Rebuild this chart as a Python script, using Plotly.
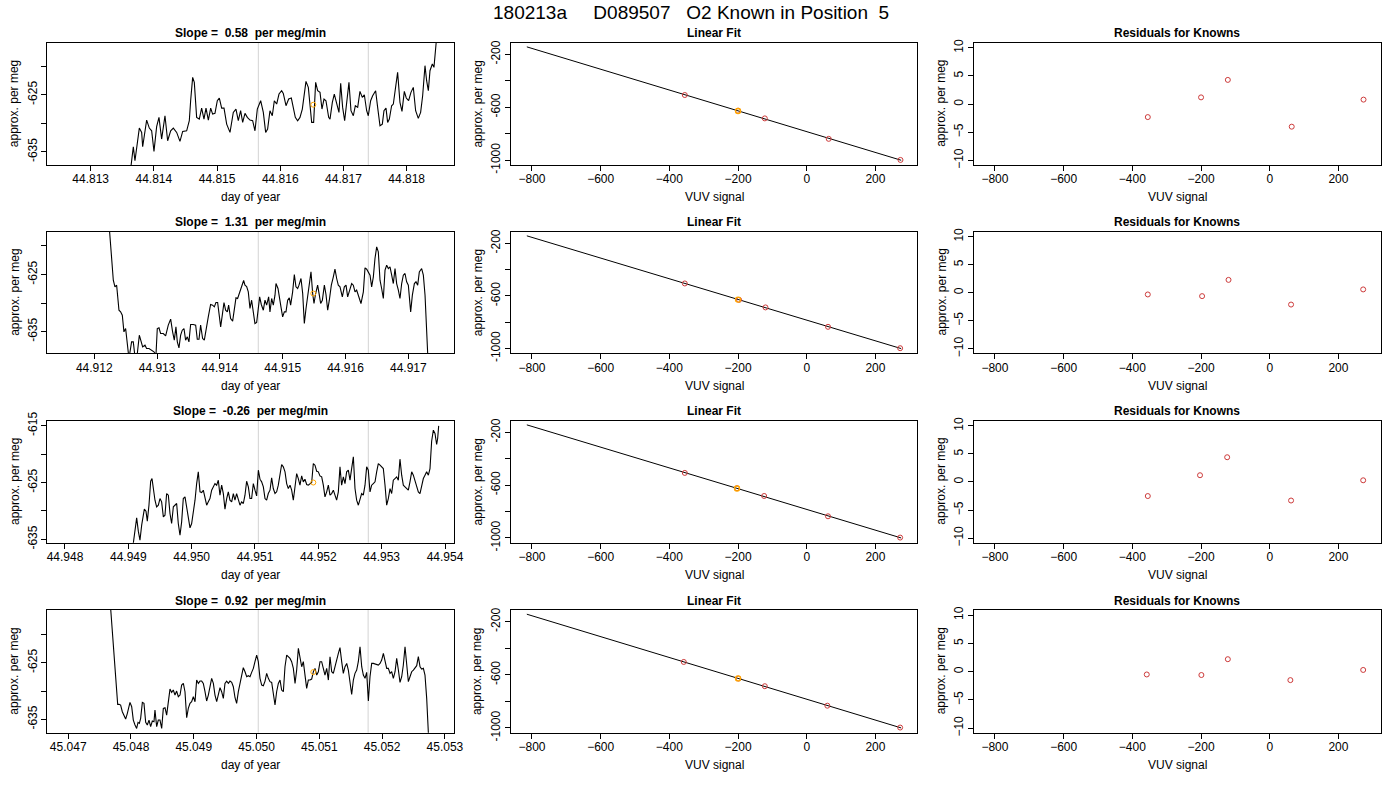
import numpy as np
import plotly.graph_objects as go

W, H = 1400, 800
FONT = "Liberation Sans, Arial, sans-serif"

main_title = "180213a     D089507   O2 Known in Position  5"
slopes = ["0.58", "1.31", "-0.26", "0.92"]

# ---- time series (day of year vs approx. per meg), one pair per row ----
day1 = [44.813600, 44.813675, 44.813701, 44.813770, 44.813807, 44.813823, 44.813886, 44.813928, 44.813965, 44.814002,
        44.814044, 44.814081, 44.814123, 44.814176, 44.814218, 44.814266, 44.814308, 44.814361, 44.814413, 44.814456,
        44.814519, 44.814561, 44.814582, 44.814614, 44.814640, 44.814677, 44.814719, 44.814756, 44.814793, 44.814825,
        44.814862, 44.814899, 44.814930, 44.814967, 44.815004, 44.815036, 44.815073, 44.815110, 44.815152, 44.815205,
        44.815257, 44.815299, 44.815336, 44.815373, 44.815405, 44.815442, 44.815479, 44.815521, 44.815563, 44.815600,
        44.815637, 44.815690, 44.815732, 44.815769, 44.815800, 44.815837, 44.815874, 44.815906, 44.815943, 44.815980,
        44.816022, 44.816048, 44.816091, 44.816133, 44.816175, 44.816207, 44.816238, 44.816275, 44.816312, 44.816349,
        44.816381, 44.816407, 44.816444, 44.816470, 44.816497, 44.816528, 44.816560, 44.816592, 44.816629, 44.816660,
        44.816692, 44.816723, 44.816766, 44.816787, 44.816824, 44.816855, 44.816892, 44.816929, 44.816956, 44.816987,
        44.817019, 44.817050, 44.817087, 44.817119, 44.817156, 44.817188, 44.817225, 44.817261, 44.817298, 44.817330,
        44.817367, 44.817393, 44.817430, 44.817462, 44.817509, 44.817541, 44.817578, 44.817615, 44.817641, 44.817673,
        44.817699, 44.817726, 44.817762, 44.817789, 44.817831, 44.817857, 44.817894, 44.817926, 44.817963, 44.817994,
        44.818031, 44.818068, 44.818105, 44.818142, 44.818184, 44.818221, 44.818253, 44.818290, 44.818316, 44.818343,
        44.818369, 44.818406, 44.818432, 44.818464, 44.818490]
meg1 = [-641.00, -634.11, -636.56, -630.84, -631.60, -634.11, -629.44, -630.84, -631.31, -634.92,
        -630.60, -628.97, -632.76, -628.68, -633.06, -631.31, -630.84, -631.60, -633.17, -631.42,
        -631.31, -629.55, -626.05, -621.96, -622.84, -628.97, -629.26, -627.34, -629.26, -627.34,
        -629.44, -627.34, -628.39, -628.27, -626.05, -625.58, -627.34, -627.34, -630.14, -631.60,
        -628.09, -627.51, -629.55, -627.80, -629.85, -628.27, -628.97, -629.44, -629.55, -631.31,
        -627.51, -626.05, -628.09, -631.60, -631.01, -627.80, -628.68, -626.05, -626.63, -624.88,
        -624.30, -624.77, -626.93, -625.76, -625.58, -627.22, -628.97, -629.55, -628.97, -627.51,
        -624.30, -622.66, -623.72, -626.63, -629.85, -629.85, -622.84, -624.30, -624.59, -627.51,
        -625.76, -626.05, -628.97, -629.26, -626.34, -624.88, -626.63, -628.09, -623.02, -627.22,
        -629.55, -626.34, -622.84, -627.80, -628.68, -626.93, -627.22, -624.42, -625.47, -625.00,
        -627.80, -628.68, -626.05, -625.18, -624.30, -627.22, -630.43, -630.14, -627.80, -627.34,
        -629.85, -629.26, -626.93, -626.63, -623.13, -621.09, -626.34, -627.92, -624.42, -625.58,
        -626.05, -624.59, -623.72, -627.80, -629.15, -628.09, -625.18, -619.92, -622.55, -624.30,
        -620.80, -619.63, -620.21, -616.00, -613.00]

day2 = [44.912230, 44.912265, 44.912303, 44.912329, 44.912356, 44.912393, 44.912419, 44.912446, 44.912472, 44.912499,
        44.912525, 44.912552, 44.912594, 44.912621, 44.912648, 44.912685, 44.912717, 44.912738, 44.912770, 44.912807,
        44.912833, 44.912871, 44.912913, 44.912950, 44.912982, 44.913003, 44.913030, 44.913056, 44.913099, 44.913136,
        44.913178, 44.913216, 44.913247, 44.913274, 44.913300, 44.913322, 44.913348, 44.913375, 44.913401, 44.913428,
        44.913454, 44.913481, 44.913507, 44.913534, 44.913576, 44.913614, 44.913640, 44.913667, 44.913693, 44.913725,
        44.913752, 44.913789, 44.913815, 44.913852, 44.913884, 44.913911, 44.913937, 44.913964, 44.913985, 44.914012,
        44.914038, 44.914065, 44.914091, 44.914118, 44.914139, 44.914171, 44.914203, 44.914229, 44.914256, 44.914282,
        44.914309, 44.914336, 44.914357, 44.914378, 44.914399, 44.914426, 44.914452, 44.914479, 44.914505, 44.914532,
        44.914558, 44.914585, 44.914606, 44.914633, 44.914659, 44.914691, 44.914718, 44.914744, 44.914776, 44.914797,
        44.914824, 44.914850, 44.914877, 44.914893, 44.914925, 44.914946, 44.914972, 44.914999, 44.915026, 44.915052,
        44.915079, 44.915105, 44.915126, 44.915158, 44.915185, 44.915211, 44.915238, 44.915259, 44.915291, 44.915318,
        44.915344, 44.915371, 44.915397, 44.915424, 44.915450, 44.915477, 44.915498, 44.915524, 44.915556, 44.915583,
        44.915604, 44.915631, 44.915663, 44.915689, 44.915716, 44.915742, 44.915774, 44.915806, 44.915832, 44.915859,
        44.915885, 44.915912, 44.915949, 44.915981, 44.916008, 44.916034, 44.916061, 44.916098, 44.916124, 44.916151,
        44.916177, 44.916215, 44.916246, 44.916284, 44.916310, 44.916337, 44.916363, 44.916390, 44.916416, 44.916443,
        44.916469, 44.916496, 44.916522, 44.916549, 44.916575, 44.916602, 44.916629, 44.916655, 44.916682, 44.916708,
        44.916735, 44.916761, 44.916788, 44.916814, 44.916841, 44.916867, 44.916894, 44.916920, 44.916947, 44.916973,
        44.917000, 44.917037, 44.917064, 44.917096, 44.917122, 44.917149, 44.917175, 44.917212, 44.917239, 44.917266,
        44.917308, 44.917320]
meg2 = [-615.50, -619.86, -625.99, -627.16, -626.87, -631.25, -631.54, -632.12, -635.04, -634.46,
        -637.96, -639.71, -636.79, -636.79, -639.42, -638.84, -635.63, -636.50, -637.67, -637.38,
        -637.96, -637.96, -638.25, -638.54, -639.13, -634.46, -634.34, -635.33, -635.33, -635.74,
        -633.87, -632.82, -635.04, -636.50, -634.17, -636.79, -637.84, -635.63, -634.75, -634.46,
        -636.50, -635.92, -636.79, -633.76, -633.76, -633.87, -636.33, -636.33, -633.87, -636.21,
        -636.50, -634.46, -632.41, -630.25, -630.37, -630.66, -629.90, -629.90, -632.12, -634.17,
        -632.12, -629.90, -631.25, -631.54, -630.37, -632.71, -633.17, -630.95, -629.09, -629.20,
        -628.33, -627.74, -626.99, -626.05, -626.87, -627.10, -628.04, -630.95, -629.50, -632.12,
        -633.58, -633.41, -631.54, -628.91, -630.25, -631.25, -629.50, -630.37, -628.91, -631.54,
        -629.20, -630.37, -628.62, -626.58, -627.45, -628.62, -630.66, -632.41, -631.54, -631.54,
        -629.50, -629.09, -630.37, -628.04, -625.00, -627.16, -627.45, -626.87, -625.70, -628.33,
        -633.58, -630.95, -628.91, -627.45, -624.53, -628.33, -630.08, -628.33, -626.87, -628.62,
        -630.08, -629.50, -626.87, -628.50, -631.25, -629.50, -626.87, -625.41, -624.07, -625.70,
        -626.87, -627.16, -628.91, -627.16, -626.87, -628.91, -628.04, -626.58, -626.87, -628.04,
        -627.74, -629.20, -630.08, -628.04, -623.83, -624.07, -624.53, -625.12, -627.16, -625.41,
        -622.20, -620.15, -621.03, -625.99, -627.45, -629.20, -624.24, -623.37, -623.95, -623.66,
        -625.12, -626.58, -623.95, -626.58, -627.74, -629.20, -626.58, -625.12, -624.82, -626.28,
        -626.87, -631.54, -628.62, -626.58, -626.28, -626.87, -624.53, -623.95, -625.12, -628.62,
        -638.84, -641.00]

day3 = [44.949068, 44.949079, 44.949105, 44.949132, 44.949158, 44.949184, 44.949211, 44.949237, 44.949253, 44.949279,
        44.949300, 44.949326, 44.949353, 44.949374, 44.949395, 44.949421, 44.949447, 44.949474, 44.949500, 44.949526,
        44.949553, 44.949579, 44.949605, 44.949632, 44.949658, 44.949684, 44.949711, 44.949737, 44.949763, 44.949789,
        44.949816, 44.949842, 44.949868, 44.949895, 44.949921, 44.949947, 44.949974, 44.950000, 44.950026, 44.950053,
        44.950079, 44.950105, 44.950132, 44.950158, 44.950184, 44.950210, 44.950237, 44.950263, 44.950289, 44.950316,
        44.950342, 44.950368, 44.950395, 44.950421, 44.950447, 44.950474, 44.950500, 44.950526, 44.950553, 44.950579,
        44.950605, 44.950632, 44.950658, 44.950684, 44.950710, 44.950737, 44.950763, 44.950789, 44.950816, 44.950842,
        44.950868, 44.950895, 44.950921, 44.950947, 44.950974, 44.951000, 44.951026, 44.951053, 44.951079, 44.951105,
        44.951132, 44.951158, 44.951184, 44.951210, 44.951237, 44.951263, 44.951289, 44.951316, 44.951342, 44.951368,
        44.951395, 44.951421, 44.951447, 44.951474, 44.951500, 44.951526, 44.951553, 44.951579, 44.951605, 44.951632,
        44.951658, 44.951684, 44.951710, 44.951737, 44.951763, 44.951789, 44.951816, 44.951842, 44.951868, 44.951895,
        44.951921, 44.951947, 44.951974, 44.952000, 44.952026, 44.952053, 44.952079, 44.952105, 44.952132, 44.952158,
        44.952184, 44.952210, 44.952237, 44.952263, 44.952289, 44.952316, 44.952342, 44.952368, 44.952395, 44.952421,
        44.952447, 44.952474, 44.952500, 44.952526, 44.952553, 44.952579, 44.952605, 44.952632, 44.952658, 44.952684,
        44.952710, 44.952737, 44.952763, 44.952789, 44.952816, 44.952842, 44.952868, 44.952895, 44.952921, 44.952947,
        44.952974, 44.953000, 44.953026, 44.953053, 44.953079, 44.953105, 44.953132, 44.953158, 44.953184, 44.953210,
        44.953237, 44.953263, 44.953289, 44.953316, 44.953342, 44.953368, 44.953395, 44.953421, 44.953447, 44.953474,
        44.953500, 44.953526, 44.953553, 44.953579, 44.953605, 44.953631, 44.953658, 44.953684, 44.953710, 44.953737,
        44.953763, 44.953789, 44.953816, 44.953842, 44.953868, 44.953884, 44.953900]
meg3 = [-636.61, -635.62, -633.56, -631.22, -633.56, -635.15, -632.51, -631.04, -629.69, -630.04,
        -631.80, -628.99, -624.77, -624.30, -626.06, -628.11, -629.28, -628.99, -627.82, -628.40,
        -631.04, -630.75, -626.94, -627.23, -630.45, -632.21, -629.28, -628.99, -628.69, -632.21,
        -634.27, -631.92, -627.82, -627.52, -629.57, -631.04, -632.98, -632.21, -630.45, -628.11,
        -625.18, -623.12, -626.64, -626.76, -626.35, -627.82, -628.99, -628.40, -627.82, -626.35,
        -625.76, -625.18, -625.47, -624.59, -627.23, -625.47, -626.94, -629.69, -627.82, -626.64,
        -628.11, -628.40, -626.94, -628.11, -626.94, -628.11, -628.99, -628.40, -628.69, -627.23,
        -624.77, -625.76, -627.82, -627.82, -625.18, -626.35, -627.35, -622.83, -624.41, -624.88,
        -625.76, -627.82, -628.11, -626.94, -626.35, -624.18, -626.06, -626.94, -626.64, -625.47,
        -623.71, -621.83, -622.24, -623.12, -625.18, -626.06, -625.47, -626.35, -628.11, -625.47,
        -623.42, -624.30, -625.47, -623.83, -624.88, -624.41, -625.35, -625.47, -625.18, -625.00,
        -621.66, -621.95, -623.01, -623.12, -623.83, -624.00, -625.47, -627.52, -626.64, -625.47,
        -627.23, -626.94, -626.35, -627.23, -628.11, -626.64, -622.24, -625.47, -624.00, -625.18,
        -623.12, -622.83, -624.59, -622.54, -620.48, -626.06, -628.11, -628.99, -627.82, -626.94,
        -627.23, -625.47, -622.24, -622.83, -626.64, -625.47, -625.18, -624.88, -623.12, -621.66,
        -621.95, -622.24, -622.54, -625.47, -628.99, -627.82, -626.06, -626.94, -624.59, -624.30,
        -624.00, -624.59, -620.89, -623.71, -625.47, -625.76, -626.06, -626.35, -624.88, -623.12,
        -623.71, -624.59, -625.76, -626.64, -626.94, -625.47, -624.30, -623.71, -623.12, -623.71,
        -622.54, -617.73, -615.79, -616.38, -618.31, -617.26, -615.03]

day4 = [45.047670, 45.047692, 45.047719, 45.047745, 45.047772, 45.047788, 45.047809, 45.047835, 45.047862, 45.047888,
        45.047915, 45.047942, 45.047968, 45.047984, 45.048011, 45.048037, 45.048064, 45.048090, 45.048112, 45.048133,
        45.048154, 45.048181, 45.048207, 45.048234, 45.048260, 45.048287, 45.048313, 45.048340, 45.048366, 45.048382,
        45.048409, 45.048435, 45.048462, 45.048489, 45.048515, 45.048542, 45.048568, 45.048595, 45.048621, 45.048648,
        45.048674, 45.048701, 45.048727, 45.048754, 45.048781, 45.048807, 45.048834, 45.048860, 45.048887, 45.048913,
        45.048940, 45.048966, 45.048993, 45.049020, 45.049046, 45.049073, 45.049099, 45.049126, 45.049152, 45.049179,
        45.049205, 45.049232, 45.049258, 45.049285, 45.049312, 45.049338, 45.049365, 45.049391, 45.049418, 45.049444,
        45.049471, 45.049497, 45.049524, 45.049551, 45.049577, 45.049604, 45.049630, 45.049657, 45.049683, 45.049710,
        45.049736, 45.049763, 45.049789, 45.049816, 45.049843, 45.049869, 45.049896, 45.049922, 45.049949, 45.049975,
        45.050002, 45.050028, 45.050055, 45.050082, 45.050108, 45.050135, 45.050161, 45.050188, 45.050214, 45.050241,
        45.050267, 45.050294, 45.050320, 45.050347, 45.050374, 45.050400, 45.050427, 45.050453, 45.050480, 45.050506,
        45.050533, 45.050559, 45.050586, 45.050613, 45.050639, 45.050666, 45.050692, 45.050719, 45.050745, 45.050772,
        45.050798, 45.050825, 45.050851, 45.050878, 45.050905, 45.050931, 45.050958, 45.050984, 45.051011, 45.051037,
        45.051064, 45.051090, 45.051117, 45.051144, 45.051170, 45.051197, 45.051223, 45.051250, 45.051276, 45.051303,
        45.051329, 45.051356, 45.051382, 45.051409, 45.051436, 45.051462, 45.051489, 45.051515, 45.051542, 45.051568,
        45.051595, 45.051621, 45.051648, 45.051675, 45.051701, 45.051728, 45.051754, 45.051781, 45.051807, 45.051834,
        45.051860, 45.051887, 45.051913, 45.051940, 45.051967, 45.051993, 45.052020, 45.052046, 45.052073, 45.052099,
        45.052126, 45.052152, 45.052179, 45.052206, 45.052232, 45.052259, 45.052285, 45.052312, 45.052338, 45.052365,
        45.052391, 45.052418, 45.052444, 45.052471, 45.052498, 45.052524, 45.052551, 45.052577, 45.052604, 45.052630,
        45.052657, 45.052683, 45.052710, 45.052737, 45.052745]
meg4 = [-614.50, -617.77, -620.71, -624.24, -628.94, -632.35, -632.35, -632.47, -633.65, -634.35,
        -634.94, -633.94, -632.76, -632.00, -632.76, -635.12, -636.00, -636.59, -635.53, -635.71,
        -634.82, -632.00, -632.18, -635.53, -636.00, -635.12, -636.29, -635.29, -635.41, -633.35,
        -636.29, -635.12, -635.12, -636.59, -633.06, -632.94, -634.24, -631.29, -629.65, -630.24,
        -629.82, -630.71, -630.00, -631.00, -630.71, -628.94, -628.65, -630.12, -634.71, -633.06,
        -632.18, -631.88, -631.00, -631.88, -628.06, -628.65, -628.24, -628.24, -628.65, -630.12,
        -631.76, -630.71, -629.24, -627.76, -628.65, -630.71, -631.88, -630.71, -629.41, -630.12,
        -631.29, -628.65, -628.24, -628.65, -628.24, -628.47, -629.24, -631.18, -632.18, -630.12,
        -628.65, -627.47, -625.88, -626.59, -627.47, -627.29, -627.47, -626.71, -626.00, -624.82,
        -623.65, -624.82, -627.76, -628.94, -629.06, -628.24, -626.88, -627.76, -628.35, -628.47,
        -630.71, -632.47, -630.12, -628.65, -628.06, -629.82, -630.12, -625.71, -623.65, -623.94,
        -624.24, -624.82, -626.00, -628.65, -626.29, -622.47, -623.94, -625.71, -624.82, -627.47,
        -629.53, -628.06, -628.06, -627.88, -626.59, -626.00, -627.18, -626.59, -624.82, -624.82,
        -626.12, -627.18, -626.00, -628.06, -623.94, -626.59, -626.88, -625.41, -624.53, -623.35,
        -622.35, -624.82, -626.88, -625.71, -625.12, -626.29, -628.65, -630.59, -628.06, -626.88,
        -626.29, -624.82, -622.18, -625.71, -627.18, -627.76, -626.71, -631.76, -627.47, -625.12,
        -625.12, -625.24, -625.41, -625.41, -625.12, -624.53, -623.35, -624.53, -626.00, -626.00,
        -626.88, -626.59, -627.76, -626.59, -624.24, -626.29, -628.47, -627.47, -625.41, -622.18,
        -624.82, -628.35, -627.47, -626.59, -626.29, -626.00, -625.53, -623.94, -625.71, -626.12,
        -626.00, -627.18, -631.29, -637.47, -640.00]

ts_day = [day1, day2, day3, day4]
ts_meg = [meg1, meg2, meg3, meg4]

# window edges (grey verticals) and the averaged sample (orange)
window_days = [[44.815653, 44.817393], [44.914611, 44.916363],
               [44.951053, 44.952789], [45.050027, 45.051777]]
sample_day = [44.816523, 44.915487, 44.951921, 45.050904]
sample_meg = [-626.75, -628.33, -625.00, -626.65]

# ---- calibration knowns ----
known_vuv = [[-355, -200, -122, 64, 273],
             [-355, -197, -120, 62, 272],
             [-355, -203, -124, 62, 272],
             [-358, -199, -122, 60, 272]]
known_meg = [[-507.3, -625.6, -683.8, -838.3, -997.8],
             [-505.3, -629.8, -687.4, -834.8, -997.2],
             [-507.5, -623.2, -682.1, -836.0, -997.2],
             [-503.1, -628.2, -685.9, -832.7, -997.2]]
resid_meg = [[-2.3, 1.2, 4.3, -4.0, 0.8],
             [-0.3, -0.6, 2.3, -2.1, 0.6],
             [-2.5, 1.2, 4.4, -3.3, 0.3],
             [-0.5, -0.6, 2.2, -1.5, 0.3]]
unknown_vuv = [-200, -200, -203, -200]
unknown_meg = [-628, -628, -626, -627]
fit_span = [-815, 275]

day_ticks = [["44.813", "44.814", "44.815", "44.816", "44.817", "44.818"],
             ["44.912", "44.913", "44.914", "44.915", "44.916", "44.917"],
             ["44.948", "44.949", "44.950", "44.951", "44.952", "44.953", "44.954"],
             ["45.047", "45.048", "45.049", "45.050", "45.051", "45.052", "45.053"]]
meg_ticks = [[-635, -630, -625, -620], [-635, -630, -625, -620],
             [-635, -630, -625, -620, -615], [-635, -630, -625, -620]]
fit_ticks = [-1000, -800, -600, -400, -200]
res_ticks = [-10, -5, 0, 5, 10]
vuv_ticks = [-800, -600, -400, -200, 0, 200]

# ---- layout geometry (pixels) ----
col_px = [(47.3, 454.0), (510.7, 917.3), (974.0, 1380.7)]
row_px = [(42.7, 165.0), (231.7, 353.3), (420.7, 542.7), (610.0, 732.7)]
ts_xrange = [[44.812314, 44.818749], [44.911252, 44.917727],
             [44.947721, 44.954142], [45.046667, 45.053145]]
ts_yrange = [[-637.3, -615.9], [-638.8, -617.5], [-635.59, -614.12], [-637.35, -615.7]]

RED = "#cd3b3b"
ORANGE = "#ffa500"


def px_x(p):
    return p / W


def px_y(p):
    return 1 - p / H


def nb(s):
    return s.replace(" ", "\u00a0")


def axis_style(**kw):
    base = dict(showgrid=False, zeroline=False, showline=True, mirror=True,
                automargin=False,
                linecolor="black", linewidth=1, ticks="outside", ticklen=5,
                tickcolor="black", tickwidth=1,
                tickfont=dict(family=FONT, size=12, color="black"))
    base.update(kw)
    return base


fig = go.Figure()
layout = {}
annotations = []
shapes = []

for r in range(4):
    y0, y1 = row_px[r]
    ydom = [px_y(y1), px_y(y0)]
    for c in range(3):
        k = r * 3 + c + 1
        sfx = "" if k == 1 else str(k)
        xa, ya = "x" + sfx, "y" + sfx
        x0, x1 = col_px[c]
        xdom = [px_x(x0), px_x(x1)]

        if c == 0:
            fig.add_trace(go.Scatter(x=ts_day[r], y=ts_meg[r], mode="lines",
                                     line=dict(color="black", width=1.1),
                                     xaxis=xa, yaxis=ya, showlegend=False))
            fig.add_trace(go.Scatter(x=[sample_day[r]], y=[sample_meg[r]], mode="markers",
                                     marker=dict(symbol="circle-open", size=5, color=ORANGE,
                                                 line=dict(width=1, color=ORANGE)),
                                     xaxis=xa, yaxis=ya, showlegend=False))
            for d in window_days[r]:
                shapes.append(dict(type="line", xref=xa, yref=ya + " domain",
                                   x0=d, x1=d, y0=0, y1=1, layer="below",
                                   line=dict(color="#d3d3d3", width=1)))
            yt = meg_ticks[r]
            ytext = [str(v) if v % 10 != 0 else "" for v in yt]
            layout["xaxis" + sfx] = axis_style(domain=xdom, anchor=ya, range=ts_xrange[r],
                                               tickvals=[float(t) for t in day_ticks[r]],
                                               ticktext=day_ticks[r], ticklabelstandoff=-2)
            layout["yaxis" + sfx] = axis_style(domain=ydom, anchor=xa, range=ts_yrange[r],
                                               tickvals=yt, ticktext=ytext, tickangle=-90)
            title, xlab = "Slope =  " + slopes[r] + "  per meg/min", "day of year"
        elif c == 1:
            coef = np.polyfit(known_vuv[r], known_meg[r], 1)
            fig.add_trace(go.Scatter(x=fit_span, y=np.polyval(coef, fit_span), mode="lines",
                                     line=dict(color="black", width=1),
                                     xaxis=xa, yaxis=ya, showlegend=False))
            fig.add_trace(go.Scatter(x=known_vuv[r], y=known_meg[r], mode="markers",
                                     marker=dict(symbol="circle-open", size=5, color=RED,
                                                 line=dict(width=1, color=RED)),
                                     xaxis=xa, yaxis=ya, showlegend=False))
            fig.add_trace(go.Scatter(x=[unknown_vuv[r]], y=[unknown_meg[r]], mode="markers",
                                     marker=dict(symbol="circle-open", size=5, color=ORANGE,
                                                 line=dict(width=1.4, color=ORANGE)),
                                     xaxis=xa, yaxis=ya, showlegend=False))
            layout["xaxis" + sfx] = axis_style(domain=xdom, anchor=ya, range=[-862, 322],
                                               tickvals=vuv_ticks, ticklabelstandoff=-2)
            layout["yaxis" + sfx] = axis_style(domain=ydom, anchor=xa, range=[-1036, -112],
                                               tickvals=fit_ticks,
                                               ticktext=["-1000", "", "-600", "", "-200"],
                                               tickangle=-90)
            title, xlab = "Linear Fit", "VUV signal"
        else:
            fig.add_trace(go.Scatter(x=known_vuv[r], y=resid_meg[r], mode="markers",
                                     marker=dict(symbol="circle-open", size=5, color=RED,
                                                 line=dict(width=1, color=RED)),
                                     xaxis=xa, yaxis=ya, showlegend=False))
            layout["xaxis" + sfx] = axis_style(domain=xdom, anchor=ya, range=[-861, 323],
                                               tickvals=vuv_ticks, ticklabelstandoff=-2)
            layout["yaxis" + sfx] = axis_style(domain=ydom, anchor=xa, range=[-10.8, 10.9],
                                               tickvals=res_ticks, tickangle=-90)
            title, xlab = "Residuals for Knowns", "VUV signal"

        cx = px_x((x0 + x1) / 2)
        annotations.append(dict(text=f"<b>{nb(title)}</b>", x=cx, y=px_y(y0 - 9.5),
                                xref="paper", yref="paper", showarrow=False,
                                xanchor="center", yanchor="middle",
                                font=dict(family=FONT, size=12, color="black")))
        annotations.append(dict(text=xlab, x=cx, y=px_y(y1 + 32.5),
                                xref="paper", yref="paper", showarrow=False,
                                xanchor="center", yanchor="middle",
                                font=dict(family=FONT, size=12, color="black")))
        annotations.append(dict(text="approx. per meg", x=px_x(x0 - 33), y=sum(ydom) / 2,
                                xref="paper", yref="paper", showarrow=False, textangle=-90,
                                xanchor="center", yanchor="middle",
                                font=dict(family=FONT, size=12, color="black")))

annotations.append(dict(text=nb(main_title), x=px_x(691), y=px_y(12),
                        xref="paper", yref="paper", showarrow=False,
                        xanchor="center", yanchor="middle",
                        font=dict(family=FONT, size=19, color="black")))

fig.update_layout(template="none", width=W, height=H, margin=dict(l=0, r=0, t=0, b=0),
                  paper_bgcolor="white", plot_bgcolor="white",
                  annotations=annotations, shapes=shapes, **layout)

# drop the browser's default body margin so the figure sits at the page corner
fig.write_html("out.html", config={"displayModeBar": False},
               post_script="document.body.style.margin = '0px';")
